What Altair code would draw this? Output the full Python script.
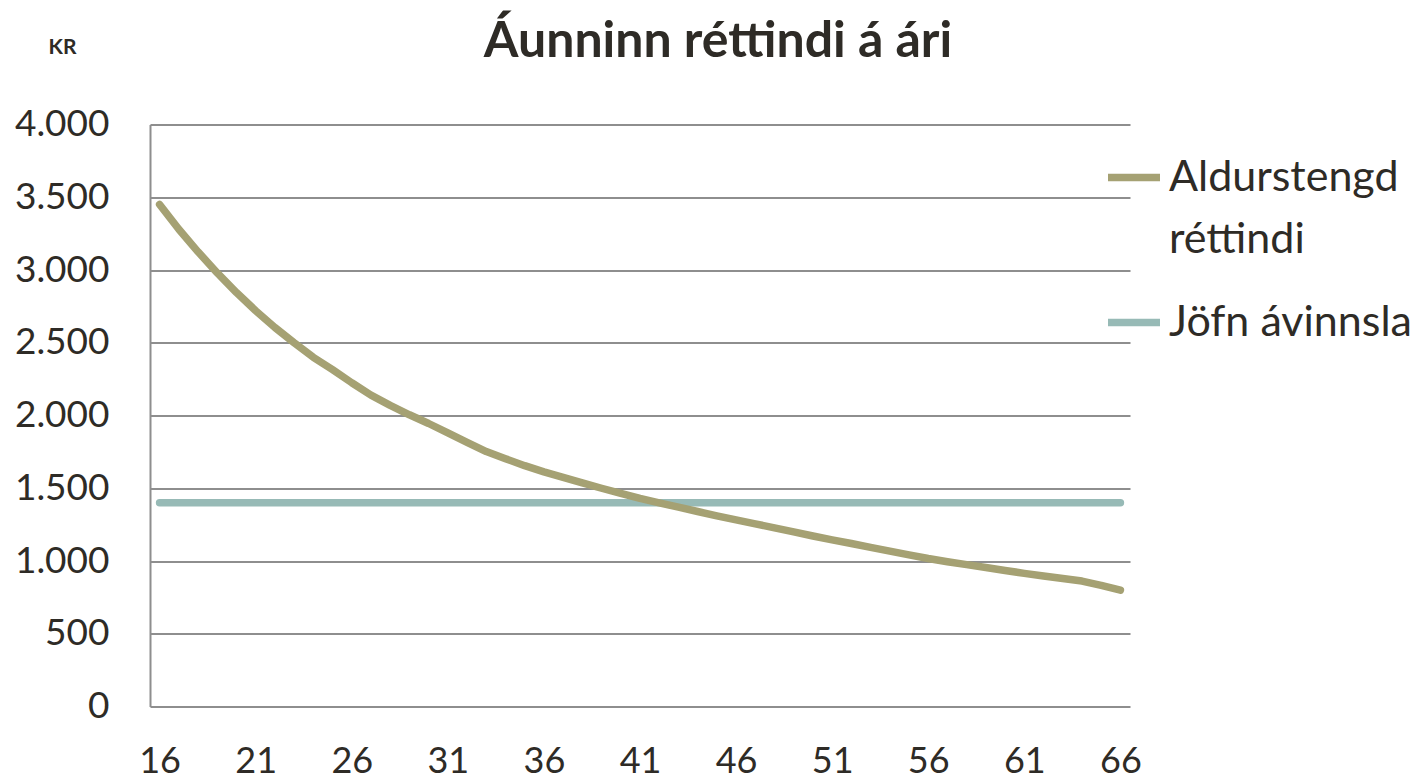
import altair as alt
import pandas as pd

# ---- data ----
ages = list(range(16, 67))
aldurstengd = [3450, 3280, 3125, 2980, 2845, 2720, 2605, 2500, 2400, 2315,
               2225, 2140, 2070, 2005, 1945, 1880, 1815, 1752, 1703, 1655,
               1613, 1575, 1537, 1500, 1465, 1430, 1400, 1370, 1340, 1310,
               1283, 1255, 1228, 1200, 1172, 1145, 1120, 1094, 1068, 1042,
               1017, 995, 975, 955, 935, 915, 897, 880, 862, 833, 800]
jofn = [1400] * len(ages)
series_names = ["Aldurstengd réttindi", "Jöfn ávinnsla"]
series_colors = ["#A5A173", "#97BAB6"]
x_ticks = [16, 21, 26, 31, 36, 41, 46, 51, 56, 61, 66]
y_ticks = [0, 500, 1000, 1500, 2000, 2500, 3000, 3500, 4000]

rows = []
for name, vals in [(series_names[1], jofn), (series_names[0], aldurstengd)]:
    for a, v in zip(ages, vals):
        rows.append({"age": a, "value": v, "series": name})
df = pd.DataFrame(rows)

TEXT = "#2E2B26"
GRID = "#8E8E8E"
FONT = "Lato"

legend = alt.Legend(
    title=None, orient="none", legendX=954, legendY=23, padding=0,
    symbolType="stroke", symbolSize=2704, symbolStrokeWidth=7.5,
    labelFont=FONT, labelFontSize=43, labelColor=TEXT, labelLimit=400,
    labelOffset=5, rowPadding=31,
    labelExpr="datum.value == 'Aldurstengd réttindi' ? ['Aldurstengd', 'réttindi'] : datum.label",
)

chart = alt.Chart(df).mark_line(strokeWidth=7.5, strokeCap="round", strokeJoin="round").encode(
    x=alt.X("age:Q",
            scale=alt.Scale(domain=[15.5, 66.5], nice=False, zero=False),
            axis=alt.Axis(values=x_ticks, grid=False, ticks=False, domain=False,
                          labelFont=FONT, labelFontSize=36, labelColor=TEXT,
                          labelPadding=38, labelFlush=False, title=None)),
    y=alt.Y("value:Q",
            scale=alt.Scale(domain=[0, 4000], nice=False),
            axis=alt.Axis(values=y_ticks, grid=True, gridColor=GRID, gridWidth=2,
                          gridOpacity=1, ticks=False, domain=True, domainColor=GRID,
                          domainWidth=2,
                          labelExpr="replace(format(datum.value, ','), ',', '.')",
                          labelFont=FONT, labelFontSize=37, labelColor=TEXT,
                          labelPadding=41,
                          title="KR", titleAngle=0, titleX=-88, titleY=-77,
                          titleAlign="center", titleBaseline="middle",
                          titleFont=FONT, titleFontSize=21, titleFontWeight="bold",
                          titleColor=TEXT)),
    color=alt.Color("series:N",
                    scale=alt.Scale(domain=series_names, range=series_colors),
                    legend=legend),
).properties(
    width=980, height=582,
    title=alt.TitleParams("Áunninn réttindi á ári", font=FONT, fontSize=50,
                          fontWeight="bold", color=TEXT, anchor="middle",
                          dx=78, dy=30, offset=0),
    autosize=alt.AutoSizeParams(type="none"),
    padding={"left": 142, "top": 116.5, "right": 284, "bottom": 73},
).configure(
    style={"guide-label": {"lineHeight": 62}}
).configure_view(stroke=None)

chart.save("out.html", embed_options={"renderer": "svg", "actions": False})
